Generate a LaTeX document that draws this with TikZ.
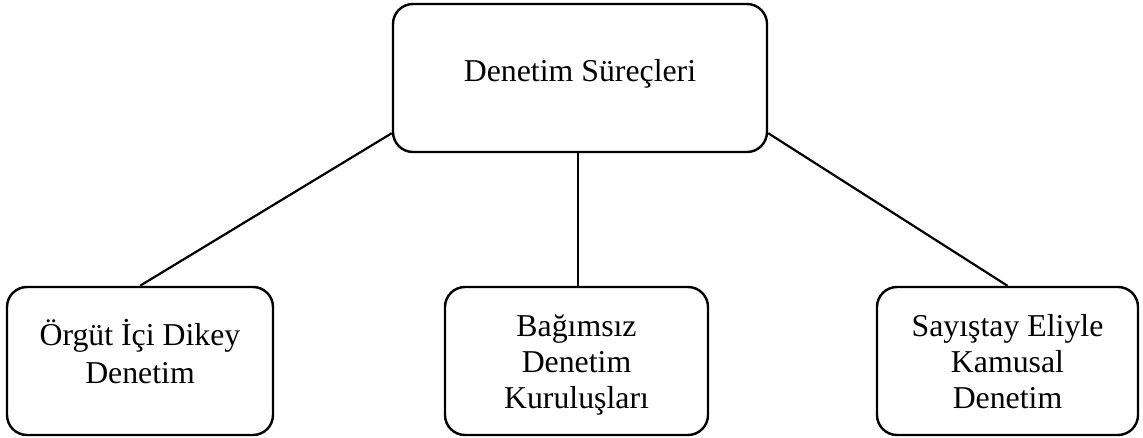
\documentclass[tikz,border=0pt]{standalone}
\usepackage{fontspec}
\setmainfont{Liberation Serif}
\begin{document}
\begin{tikzpicture}[x=1pt,y=-1pt,
  box/.style={draw=black, line width=2.4pt, rounded corners=20pt, inner sep=0pt},
  txt/.style={align=center, font=\fontsize{31.8}{36}\selectfont, inner sep=0pt, anchor=base},
  link/.style={draw=black, line width=2.2pt}]
  \useasboundingbox (0,0) rectangle (1143,438);
  % frames
  \node[box, minimum width=374pt, minimum height=148pt] (top) at (580,78) {};
  \node[box, minimum width=266pt, minimum height=148pt] (left) at (140,361) {};
  \node[box, minimum width=263pt, minimum height=148pt] (mid) at (576.5,361) {};
  \node[box, minimum width=261pt, minimum height=148pt] (right) at (1007.5,361) {};
  % labels (anchored at the baseline of the last line)
  \node[txt] (topT) at (580,82) {Denetim Süreçleri};
  \node[txt] (leftT) at (140,383) {Örgüt İçi Dikey\\[2pt]Denetim};
  \node[txt] (midT) at (576.5,408) {Bağımsız\\Denetim\\Kuruluşları};
  \node[txt] (rightT) at (1007.5,408) {Sayıştay Eliyle\\Kamusal\\Denetim};
  % connectors
  \draw[link] ([yshift=20pt]top.south west) -- (left.north);
  \draw[link] ([xshift=1.5pt]mid.north |- top.south) -- ([xshift=1.5pt]mid.north);
  \draw[link] ([yshift=20pt]top.south east) -- (right.north);
\end{tikzpicture}
\end{document}
